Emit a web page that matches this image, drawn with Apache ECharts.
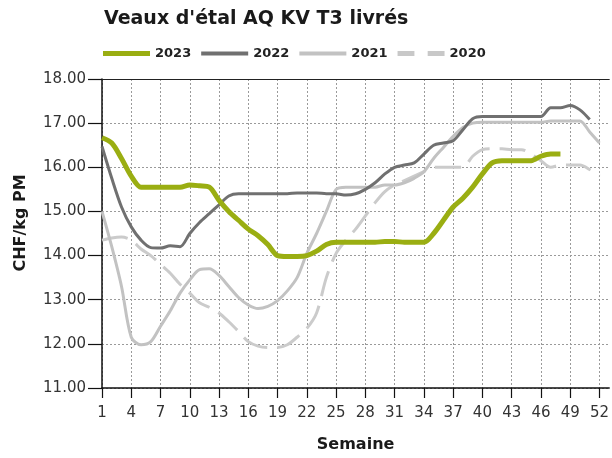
<!DOCTYPE html>
<html>
<head>
<meta charset="utf-8">
<script src="https://cdn.jsdelivr.net/npm/echarts@6/dist/echarts.min.js"></script>
<style>
html,body{margin:0;padding:0;background:#fff;}
#c{width:612px;height:458px;}
</style>
</head>
<body>
<div id="c"></div>
<script>
var weeks = ['1','2','3','4','5','6','7','8','9','10','11','12','13','14','15','16','17','18','19','20','21','22','23','24','25','26','27','28','29','30','31','32','33','34','35','36','37','38','39','40','41','42','43','44','45','46','47','48','49','50','51','52','53'];

var s2023 = [16.67,16.55,16.2,15.8,15.55,15.55,15.55,15.55,15.55,15.6,15.58,15.55,15.25,15.0,14.8,14.6,14.45,14.25,14.0,13.98,13.98,14.0,14.1,14.25,14.3,14.3,14.3,14.3,14.3,14.32,14.32,14.3,14.3,14.3,14.5,14.8,15.1,15.3,15.55,15.85,16.1,16.15,16.15,16.15,16.15,16.25,16.3,16.3,null,null,null,null,null];

var s2022 = [16.47,15.75,15.1,14.65,14.35,14.18,14.17,14.22,14.2,14.5,14.75,14.95,15.15,15.35,15.4,15.4,15.4,15.4,15.4,15.4,15.42,15.42,15.42,15.4,15.4,15.37,15.4,15.5,15.65,15.85,16.0,16.05,16.1,16.3,16.5,16.55,16.6,16.85,17.1,17.15,17.15,17.15,17.15,17.15,17.15,17.15,17.35,17.35,17.4,17.3,17.08,null,null];

var s2021 = [15.0,14.2,13.3,12.15,11.98,12.05,12.4,12.75,13.15,13.45,13.68,13.7,13.55,13.3,13.05,12.88,12.8,12.85,12.98,13.2,13.5,14.05,14.5,15.0,15.5,15.55,15.55,15.55,15.55,15.6,15.6,15.65,15.75,15.9,16.2,16.45,16.7,16.9,17.0,17.02,17.02,17.02,17.02,17.02,17.02,17.02,17.05,17.05,17.05,17.05,16.8,16.55,null];

var s2020 = [14.35,14.4,14.42,14.35,14.15,14.0,13.8,13.6,13.35,13.15,12.93,12.83,12.7,12.5,12.28,12.05,11.95,11.92,11.92,11.98,12.15,12.35,12.7,13.5,14.05,14.35,14.6,14.9,15.2,15.45,15.6,15.7,15.8,15.9,16.0,16.0,16.0,16.0,16.25,16.4,16.42,16.42,16.4,16.4,16.3,16.15,16.0,16.05,16.05,16.05,15.95,15.8,null];

var seriesNames = ['2023','2022','2021','2020'];
var yMin = 11, yMax = 18, yStep = 1;

var FONT = 'DejaVu Sans';
var gridDot = {color:'#9a9a9a', width:1, type:[2,2]};

var chart = echarts.init(document.getElementById('c'), null, {renderer:'canvas'});
chart.setOption({
  animation:false,
  backgroundColor:'#fff',
  title:{
    text:"Veaux d'étal AQ KV T3 livrés",
    left:104, top:10, padding:0,
    textStyle:{fontFamily:FONT, fontWeight:'bold', fontSize:19, color:'#1a1a1a'}
  },
  legend:{
    left:103, top:47, padding:0,
    itemWidth:47, itemHeight:14, itemGap:10,
    textStyle:{fontFamily:FONT, fontWeight:'bold', fontSize:13, color:'#222'},
    data:[
      {name:'2023', icon:'path://M0,0H47V5H0Z', itemStyle:{color:'#9aae12'}},
      {name:'2022', icon:'path://M0,0H47V4H0Z', itemStyle:{color:'#707070'}},
      {name:'2021', icon:'path://M0,0H47V4H0Z', itemStyle:{color:'#c2c2c2'}},
      {name:'2020', icon:'path://M0,0H14V4H0ZM25,0H39V4H25Z', itemStyle:{color:'#c8c8c8'}}
    ]
  },
  grid:{left:102, right:0, top:79, bottom:70, containLabel:false},
  graphic:[
    {type:'text', x:21, y:223, rotation:Math.PI/2,
     style:{text:'CHF/kg PM', fontFamily:FONT, fontWeight:'bold', fontSize:16, fill:'#1a1a1a', align:'center', verticalAlign:'middle'}}
  ],
  xAxis:[
    {
      type:'category', data:weeks, boundaryGap:false,
      name:'Semaine', nameLocation:'middle', nameGap:49,
      nameTextStyle:{fontFamily:FONT, fontWeight:'bold', fontSize:16, color:'#1a1a1a'},
      axisLine:{show:true, lineStyle:{color:'#111', width:1.5}},
      axisTick:{show:true, interval:2, length:10, lineStyle:{color:'#111', width:1.2}},
      axisLabel:{interval:2, margin:18, fontFamily:FONT, fontSize:15, color:'#333'},
      splitLine:{show:true, interval:2, lineStyle:gridDot}
    },
    {
      type:'category', data:weeks, boundaryGap:false, position:'top',
      axisLine:{show:true, lineStyle:{color:'#222', width:1.2}},
      axisTick:{show:false}, axisLabel:{show:false}, splitLine:{show:false}
    }
  ],
  yAxis:{
    type:'value', min:yMin, max:yMax, interval:yStep,
    axisLine:{show:true, lineStyle:{color:'#111', width:1.5}},
    axisTick:{show:true, length:14, lineStyle:{color:'#111', width:1.2}},
    axisLabel:{margin:16, fontFamily:FONT, fontSize:15, color:'#333', formatter:function(v){return v.toFixed(2);}},
    splitLine:{show:true, lineStyle:gridDot}
  },
  series:[
    {name:seriesNames[0], type:'line', data:s2023, z:5, symbol:'none', smooth:0.3,
     itemStyle:{color:'#9aae12'}, lineStyle:{color:'#9aae12', width:5}},
    {name:seriesNames[1], type:'line', data:s2022, z:4, symbol:'none', smooth:0.3,
     itemStyle:{color:'#707070'}, lineStyle:{color:'#707070', width:3}},
    {name:seriesNames[2], type:'line', data:s2021, z:3, symbol:'none', smooth:0.3,
     itemStyle:{color:'#c2c2c2'}, lineStyle:{color:'#c2c2c2', width:3}},
    {name:seriesNames[3], type:'line', data:s2020, z:2, symbol:'none', smooth:0.3,
     itemStyle:{color:'#cbcbcb'}, lineStyle:{color:'#cbcbcb', width:3, type:[26,10]}}
  ]
});
</script>
</body>
</html>
